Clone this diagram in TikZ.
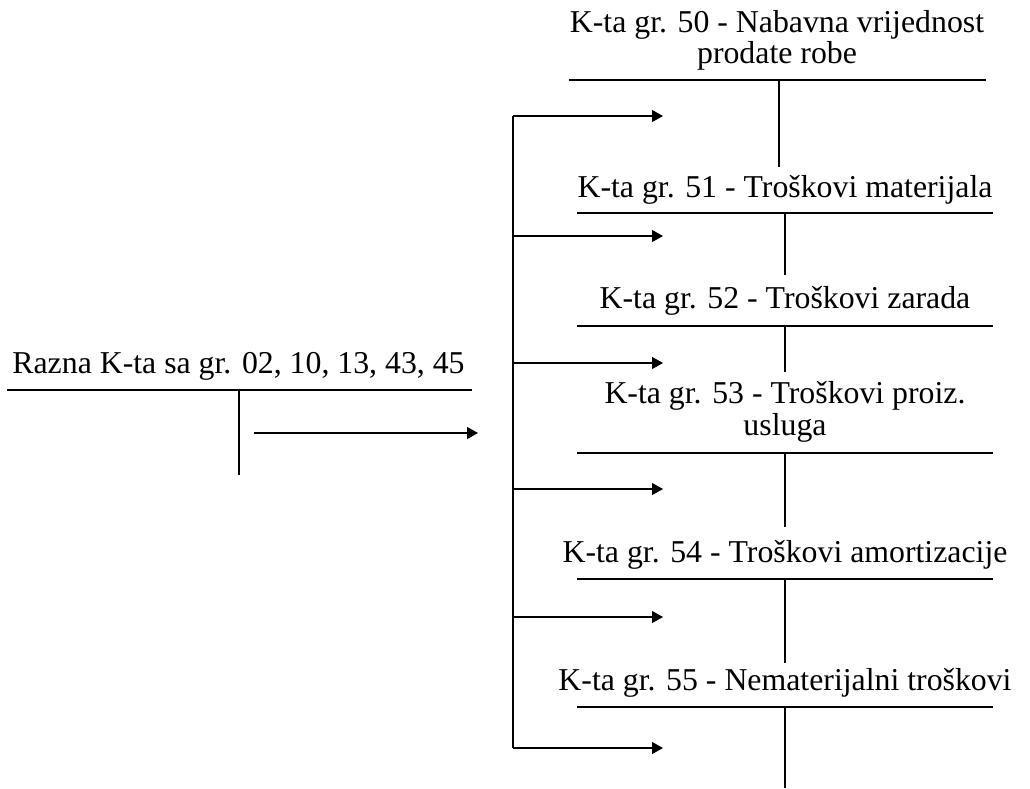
\documentclass[tikz,border=0pt]{standalone}
\usepackage{fontspec}
\setmainfont{Liberation Serif}
\usetikzlibrary{arrows.meta}
\begin{document}
\begin{tikzpicture}[x=1pt,y=-1pt,
  lbl/.style={anchor=base, inner sep=0pt, font=\fontsize{31.8}{33}\selectfont},
  ledger/.style={line width=1.2pt},
  flow/.style={line width=1.2pt, -{Triangle[length=11pt,width=12pt]}}]
\useasboundingbox (0,0) rectangle (1030,788);

% source account
\node[lbl] (src) at (238.5,373) {Razna K-ta sa gr. 02, 10, 13, 43, 45};
\coordinate (srcL) at (7,390);
\coordinate (srcR) at (472,390);
\coordinate (srcT) at (239,390);
\coordinate (srcB) at (239,475);
\draw[ledger] (srcL) -- (srcR) (srcT) -- (srcB);
\coordinate (srcOut) at (254,433);
\coordinate (srcIn) at (478,433);
\draw[flow] (srcOut) -- (srcIn);

% cost accounts
\node[lbl] (t50a) at (777,32) {K-ta gr. 50 - Nabavna vrijednost};
\node[lbl] (t50b) at (777,63) {prodate robe};
\draw[ledger] (569,80) coordinate (l50) -- (986,80) coordinate (r50)
  (779,80) coordinate (v50) -- (779,167) coordinate (w50);

\node[lbl] (t51) at (785,197) {K-ta gr. 51 - Troškovi materijala};
\node[lbl] (t52) at (785,308) {K-ta gr. 52 - Troškovi zarada};
\node[lbl] (t53a) at (785,403) {K-ta gr. 53 - Troškovi proiz.};
\node[lbl] (t53b) at (785,435) {usluga};
\node[lbl] (t54) at (785,562) {K-ta gr. 54 - Troškovi amortizacije};
\node[lbl] (t55) at (785,690) {K-ta gr. 55 - Nematerijalni troškovi};

\foreach \n/\y/\e in {51/213/275, 52/326/372, 53/453/527, 54/579/663, 55/707/788}{
  \coordinate (l\n) at (577,\y);
  \coordinate (r\n) at (993,\y);
  \coordinate (v\n) at (785,\y);
  \coordinate (w\n) at (785,\e);
  \draw[ledger] (l\n) -- (r\n) (v\n) -- (w\n);
}

% distribution bus
\coordinate (busT) at (513,116);
\coordinate (busB) at (513,748);
\draw[ledger] (busT) -- (busB);
\foreach \n/\y in {50/116, 51/236, 52/363, 53/489, 54/617, 55/748}{
  \coordinate (a\n) at (513,\y);
  \coordinate (h\n) at (663,\y);
  \draw[flow] (a\n) -- (h\n);
}
\end{tikzpicture}
\end{document}
